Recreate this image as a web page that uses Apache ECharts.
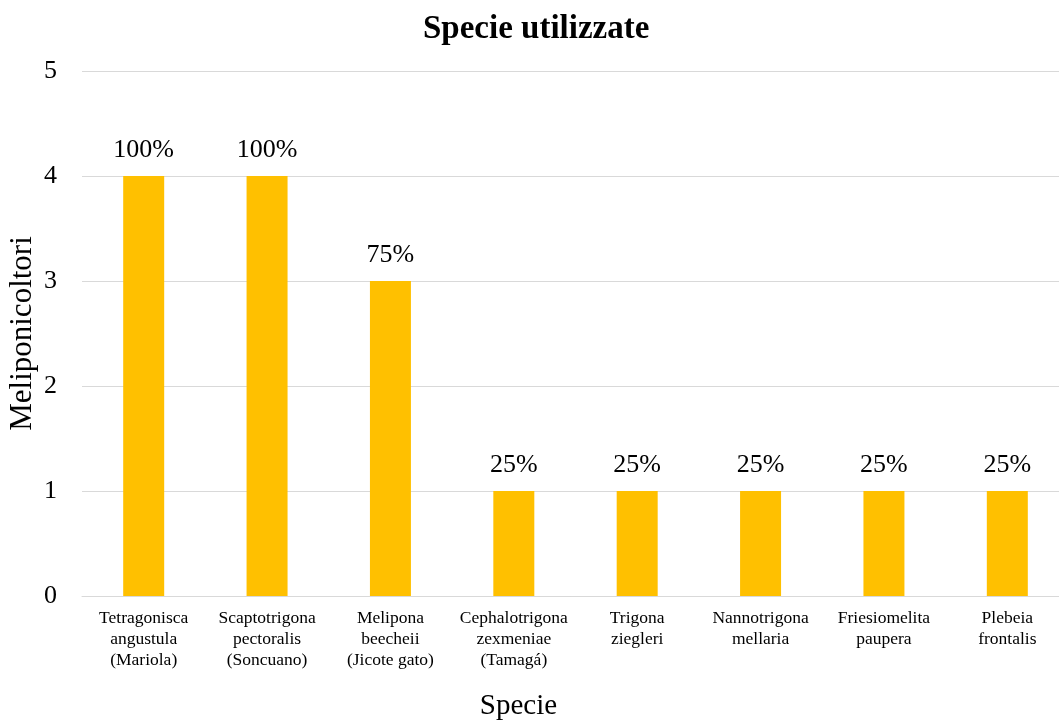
<!DOCTYPE html>
<html>
<head>
<meta charset="utf-8">
<script src="https://cdn.jsdelivr.net/npm/echarts@6/dist/echarts.min.js"></script>
<style>
  html, body { margin: 0; padding: 0; background: #fff; overflow: hidden; }
  #chart { width: 1059px; height: 724px; }
</style>
</head>
<body>
<div id="chart"></div>
<script>
// dati
const species = [
  'Tetragonisca\nangustula\n(Mariola)',
  'Scaptotrigona\npectoralis\n(Soncuano)',
  'Melipona\nbeecheii\n(Jicote gato)',
  'Cephalotrigona\nzexmeniae\n(Tamagá)',
  'Trigona\nziegleri',
  'Nannotrigona\nmellaria',
  'Friesiomelita\npaupera',
  'Plebeia\nfrontalis'
]
const beekeepers = [4, 4, 3, 1, 1, 1, 1, 1]
const percentLabels = ['100%', '100%', '75%', '25%', '25%', '25%', '25%', '25%']

const font = '"Liberation Serif", "Times New Roman", serif'
const chart = echarts.init(document.getElementById('chart'))
chart.setOption({
  animation: false,
  textStyle: { fontFamily: font, color: '#000' },
  title: {
    text: 'Specie utilizzate',
    left: 418,
    top: 8,
    textStyle: { fontFamily: font, fontSize: 33, fontWeight: 'bold', color: '#000' }
  },
  // il grafico originale è tagliato sul bordo destro
  grid: { left: 82, width: 987, top: 71, bottom: 128, outerBoundsMode: 'none', containLabel: false },
  xAxis: {
    type: 'category',
    data: species,
    name: 'Specie',
    nameLocation: 'middle',
    nameGap: 96,
    nameMoveOverlap: false,
    nameTextStyle: { fontFamily: font, fontSize: 29, color: '#000', padding: [0, 114, 0, 0] },
    axisLine: { lineStyle: { color: '#d9d9d9' } },
    axisTick: { show: false },
    axisLabel: { fontFamily: font, fontSize: 17.5, color: '#000', lineHeight: 21, margin: 12, interval: 0 }
  },
  yAxis: {
    type: 'value',
    min: 0,
    max: 5,
    interval: 1,
    name: 'Meliponicoltori',
    nameLocation: 'middle',
    nameGap: 44,
    nameMoveOverlap: false,
    nameTextStyle: { fontFamily: font, fontSize: 31, color: '#000' },
    axisLabel: { fontFamily: font, fontSize: 26, color: '#000', margin: 25 },
    splitLine: { lineStyle: { color: '#d9d9d9', width: 1 } }
  },
  series: [{
    type: 'bar',
    data: beekeepers,
    barWidth: 41,
    itemStyle: { color: '#FFC000' },
    label: {
      show: true,
      position: 'top',
      distance: 13,
      fontFamily: font,
      fontSize: 26,
      color: '#000',
      formatter: p => percentLabels[p.dataIndex]
    }
  }]
})
window.onresize = chart.resize
</script>
</body>
</html>
